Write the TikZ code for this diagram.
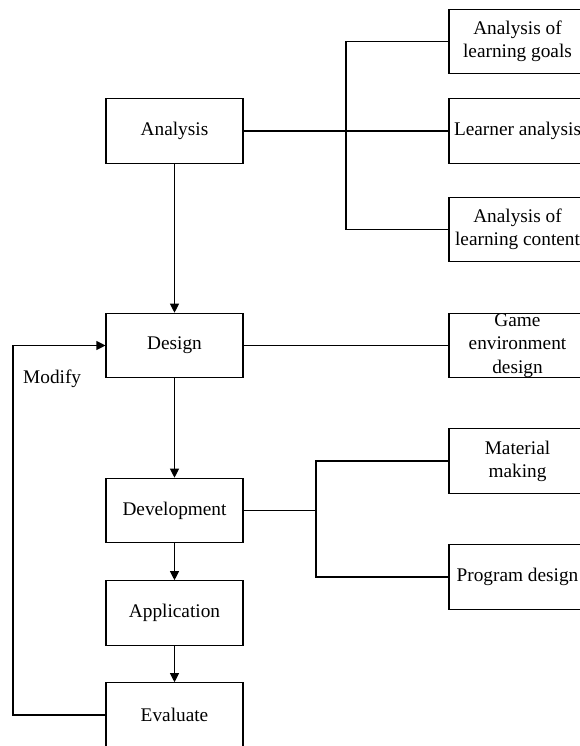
\documentclass[tikz,border=0pt]{standalone}
\usepackage{fontspec}
\setmainfont{Liberation Serif}
\usetikzlibrary{arrows.meta}
\tikzset{
  box/.style={draw, line width=1.1pt, minimum width=137pt, minimum height=64.5pt, inner sep=0pt, align=center, font=\fontsize{19.3}{23.2}\selectfont},
  conn/.style={line width=1.1pt},
  arr/.style={line width=1.1pt, -{Triangle[length=9pt,width=9pt]}},
  lbl/.style={inner sep=0pt, font=\fontsize{19.3}{23.2}\selectfont}
}
\begin{document}
\begin{tikzpicture}[x=1pt,y=-1pt]
\useasboundingbox (0,0) rectangle (580,746);
% main column
\node[box] (ana) at (174.5,131) {Analysis};
\node[box] (des) at (174.5,345.5) {Design};
\node[box] (dev) at (174.5,510.5) {Development};
\node[box] (app) at (174.5,613) {Application};
\node[box] (eva) at (174.5,715) {Evaluate};
% right column
\node[box] (goals) at (517.5,41.5) {Analysis of\\learning goals};
\node[box] (learner) at (517.5,131) {Learner analysis};
\node[box] (content) at (517.5,229.5) {Analysis of\\learning content};
\node[box] (game) at (517.5,345.5) {Game\\environment\\design};
\node[box] (mat) at (517.5,461) {Material\\making};
\node[box] (prog) at (517.5,577) {Program design};
% bracket coordinates
\coordinate (b1) at (346,131);
\coordinate (b2) at (316,510.5);
\coordinate (fb) at (13,500);
% connectors
\draw[conn] (ana.east) -- (learner.west);
\draw[conn] (goals.west) -- (goals.west -| b1) -- (content.west -| b1) -- (content.west);
\draw[conn] (des.east) -- (game.west);
\draw[conn] (dev.east) -- (b2);
\draw[conn] (mat.west) -- (mat.west -| b2) -- (prog.west -| b2) -- (prog.west);
\draw[arr] (ana.south) -- (des.north);
\draw[arr] (des.south) -- (dev.north);
\draw[arr] (dev.south) -- (app.north);
\draw[arr] (app.south) -- (eva.north);
\draw[arr] (eva.west) -- (eva.west -| fb) -- (des.west -| fb) -- (des.west);
\node[lbl, anchor=west] (mod) at (23,379) {Modify};
\end{tikzpicture}
\end{document}
